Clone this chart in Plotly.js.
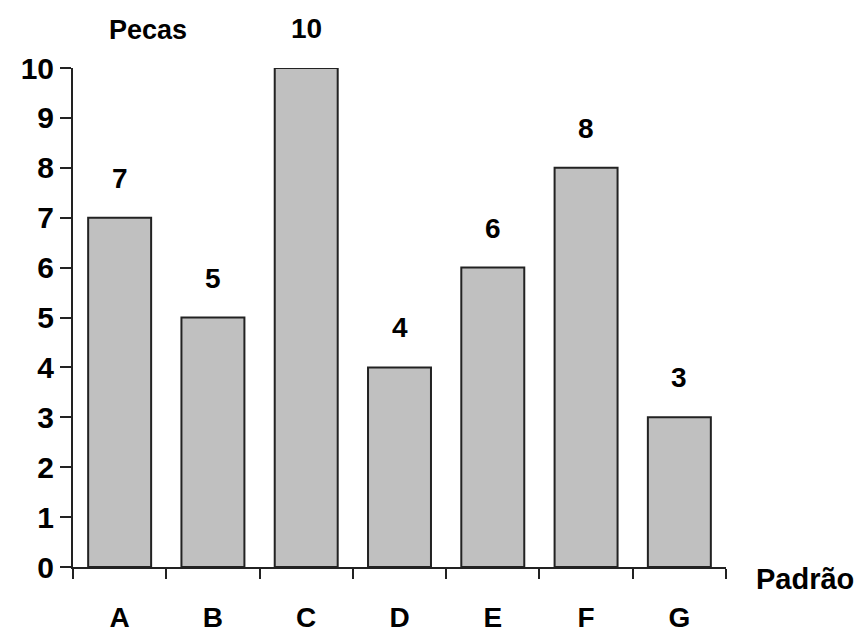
<!DOCTYPE html>
<html>
<head>
<meta charset="utf-8">
<script src="https://cdn.plot.ly/plotly-3.0.1.min.js"></script>
<style>html,body{margin:0;padding:0;background:#fff}#chart{width:862px;height:638px}</style>
</head>
<body>
<div id="chart"></div>
<script>
const categories = ["A", "B", "C", "D", "E", "F", "G"];
const pecas = [7, 5, 10, 4, 6, 8, 3];
const yTicks = [0, 1, 2, 3, 4, 5, 6, 7, 8, 9, 10];
const yTitle = "Pecas";
const xTitle = "Padrão";

const FONT = "Liberation Sans, Arial, sans-serif";

const trace = {
  type: "bar",
  x: categories,
  y: pecas,
  marker: { color: "#c0c0c0", line: { color: "#222", width: 2 } },
  hoverinfo: "x+y"
};

const valueLabels = categories.map((c, i) => ({
  x: c, y: pecas[i], xref: "x", yref: "y",
  text: String(pecas[i]), showarrow: false,
  yanchor: "bottom", yshift: 22,
  font: { family: FONT, size: 28, color: "#000", weight: "bold" }
}));

const layout = {
  width: 862, height: 638,
  margin: { l: 73, r: 136, t: 68, b: 71 },
  paper_bgcolor: "#fff", plot_bgcolor: "#fff",
  showlegend: false,
  bargap: 0.325,
  font: { family: FONT, color: "#000" },
  xaxis: {
    type: "category",
    range: [-0.5, 6.5],
    showline: true, linecolor: "#222", linewidth: 2,
    ticks: "outside", tickson: "boundaries", ticklen: 10, tickwidth: 2, tickcolor: "#222",
    ticklabelstandoff: 24,
    tickfont: { family: FONT, size: 28, color: "#000", weight: "bold" },
    showgrid: false, zeroline: false, fixedrange: true
  },
  yaxis: {
    range: [0, 10],
    tickvals: yTicks,
    showline: true, linecolor: "#222", linewidth: 2,
    ticks: "outside", ticklen: 11, tickwidth: 2, tickcolor: "#222",
    tickfont: { family: FONT, size: 30, color: "#000", weight: "bold" },
    showgrid: false, zeroline: false, fixedrange: true
  },
  annotations: valueLabels.concat([
    {
      text: yTitle, xref: "paper", yref: "paper", x: 0.115, y: 1, yshift: 38,
      xanchor: "center", yanchor: "middle", showarrow: false,
      font: { family: FONT, size: 27, color: "#000", weight: "bold" }
    },
    {
      text: xTitle, xref: "paper", yref: "paper", x: 1, y: 0, xshift: 28, yshift: -12,
      xanchor: "left", yanchor: "middle", showarrow: false,
      font: { family: FONT, size: 29, color: "#000", weight: "bold" }
    }
  ])
};

Plotly.newPlot("chart", [trace], layout, { displayModeBar: false, staticPlot: true });
</script>
</body>
</html>
